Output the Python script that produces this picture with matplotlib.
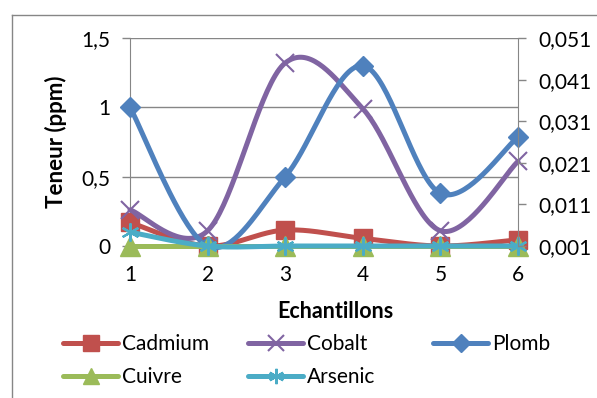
import numpy as np
import matplotlib
matplotlib.use("Agg")
import matplotlib.pyplot as plt
from matplotlib.lines import Line2D

# ---- data ----
echantillons = [1, 2, 3, 4, 5, 6]
cadmium = [0.17, 0.0, 0.115, 0.055, 0.0, 0.045]
cobalt = [0.26, 0.11, 1.32, 0.99, 0.11, 0.61]
plomb = [1.0, 0.0, 0.50, 1.30, 0.38, 0.785]
cuivre = [0.0, 0.0, 0.0, 0.0, 0.0, 0.0]
arsenic = [0.10, 0.0, 0.0, 0.0, 0.0, 0.0]

series_names = ["Cadmium", "Cobalt", "Plomb", "Cuivre", "Arsenic"]
left_ticks = [0, 0.5, 1, 1.5]
left_ticklabels = ["0", "0,5", "1", "1,5"]
right_ticks = [0.001, 0.011, 0.021, 0.031, 0.041, 0.051]
right_ticklabels = ["0,001", "0,011", "0,021", "0,031", "0,041", "0,051"]
xlabel = "Echantillons"
ylabel = "Teneur (ppm)"

plt.rcParams['font.family'] = ['Lato', 'DejaVu Sans']
FS = 15
GRAY = "#868686"

colors = ["#C0504D", "#8064A2", "#4F81BD", "#9BBB59", "#4BACC6"]
markers = ["s", "x", "D", "^", (6, 2, 0)]
msizes = [13.5, 13, 10.5, 14, 13]
mews = [1, 1.5, 1, 1, 1.6]
LW = 3.6


def smooth(xs, ys, n=40):
    """Excel-like smoothed line: cubic Bezier segments (Catmull-Rom tangents)."""
    P = np.column_stack([xs, ys]).astype(float)
    out = []
    m = len(P)
    for i in range(m - 1):
        p0 = P[i - 1] if i > 0 else P[i]
        p1 = P[i]
        p2 = P[i + 1]
        p3 = P[i + 2] if i + 2 < m else P[i + 1]
        c1 = p1 + (p2 - p0) / 6.0
        c2 = p2 - (p3 - p1) / 6.0
        t = np.linspace(0, 1, n)[:, None]
        seg = ((1 - t) ** 3) * p1 + 3 * ((1 - t) ** 2) * t * c1 + 3 * (1 - t) * t ** 2 * c2 + t ** 3 * p2
        out.append(seg if i == 0 else seg[1:])
    out = np.vstack(out)
    return out[:, 0], out[:, 1]


fig = plt.figure(figsize=(5.97, 3.98), dpi=100)
W, H = 597, 398
ax = fig.add_axes([130 / W, 1 - 246 / H, (518 - 130) / W, (246 - 38) / H])
ax2 = ax.twinx()

data = [cadmium, cobalt, plomb, cuivre, arsenic]
handles = []
for k, (name, vals) in enumerate(zip(series_names, data)):
    sx, sy = smooth(echantillons, vals)
    ax.plot(sx, sy, color=colors[k], lw=LW, solid_capstyle="round", clip_on=False, zorder=3 + k)
    ax.plot(echantillons, vals, linestyle="none", marker=markers[k], markersize=msizes[k],
            color=colors[k], markerfacecolor=colors[k], markeredgecolor=colors[k], markeredgewidth=mews[k],
            clip_on=False, zorder=3 + k)
    handles.append(Line2D([0], [0], color=colors[k], lw=LW, solid_capstyle="round",
                          marker=markers[k], markersize=msizes[k] * 0.85,
                          markerfacecolor=colors[k], markeredgecolor=colors[k], markeredgewidth=mews[k]))

ax.set_xlim(1, 6)
ax.set_ylim(0, 1.5)
ax.set_xticks(echantillons)
ax.set_xticklabels([str(e) for e in echantillons], fontsize=FS)
ax.set_yticks(left_ticks)
ax.set_yticklabels(left_ticklabels, fontsize=FS)
ax.tick_params(axis="x", length=0, pad=14)
ax.tick_params(axis="y", length=6, width=1, color=GRAY, pad=8)
ax.yaxis.grid(True, color=GRAY, lw=1)
ax.set_axisbelow(True)
for s in ["top", "right"]:
    ax.spines[s].set_visible(False)
ax.spines["left"].set_color(GRAY)
ax.spines["bottom"].set_color(GRAY)

ax2.set_ylim(right_ticks[0], right_ticks[-1])
ax2.set_yticks(right_ticks)
ax2.set_yticklabels(right_ticklabels, fontsize=FS)
ax2.tick_params(axis="y", length=6, width=1, color=GRAY, pad=9)
for s in ["top", "left", "bottom"]:
    ax2.spines[s].set_visible(False)
ax2.spines["right"].set_color(GRAY)

ax.set_xlabel(xlabel, fontsize=15.5, fontweight="bold")
ax.xaxis.set_label_coords((335 - 130) / 388, -(312 - 246) / 208)
ax.xaxis.label.set_va("center")
ax.set_ylabel(ylabel, fontsize=16, fontweight="bold")
ax.yaxis.set_label_coords((56 - 130) / 388, (246 - 142) / 208)
ax.yaxis.label.set_va("center")

# legend: three columns placed like Excel's equal-width columns
cols = [([0, 3], 63), ([1, 4], 248), ([2], 433)]
for idx, xpix in cols:
    fig.legend([handles[i] for i in idx], [series_names[i] for i in idx],
               loc="upper left", bbox_to_anchor=(xpix / W, 1 - 334 / H),
               frameon=False, fontsize=FS, handlelength=2.65, handletextpad=0.2,
               labelspacing=0.62, borderaxespad=0, borderpad=0, numpoints=1)

# outer chart frame (gray, cut by the image edges)
fig.add_artist(Line2D([12 / W, 1.0], [1 - 15 / H, 1 - 15 / H], transform=fig.transFigure, color=GRAY, lw=1))
fig.add_artist(Line2D([12 / W, 12 / W], [1 - 15 / H, 0.0], transform=fig.transFigure, color=GRAY, lw=1))

fig.savefig("out.png", dpi=100, facecolor="white")
